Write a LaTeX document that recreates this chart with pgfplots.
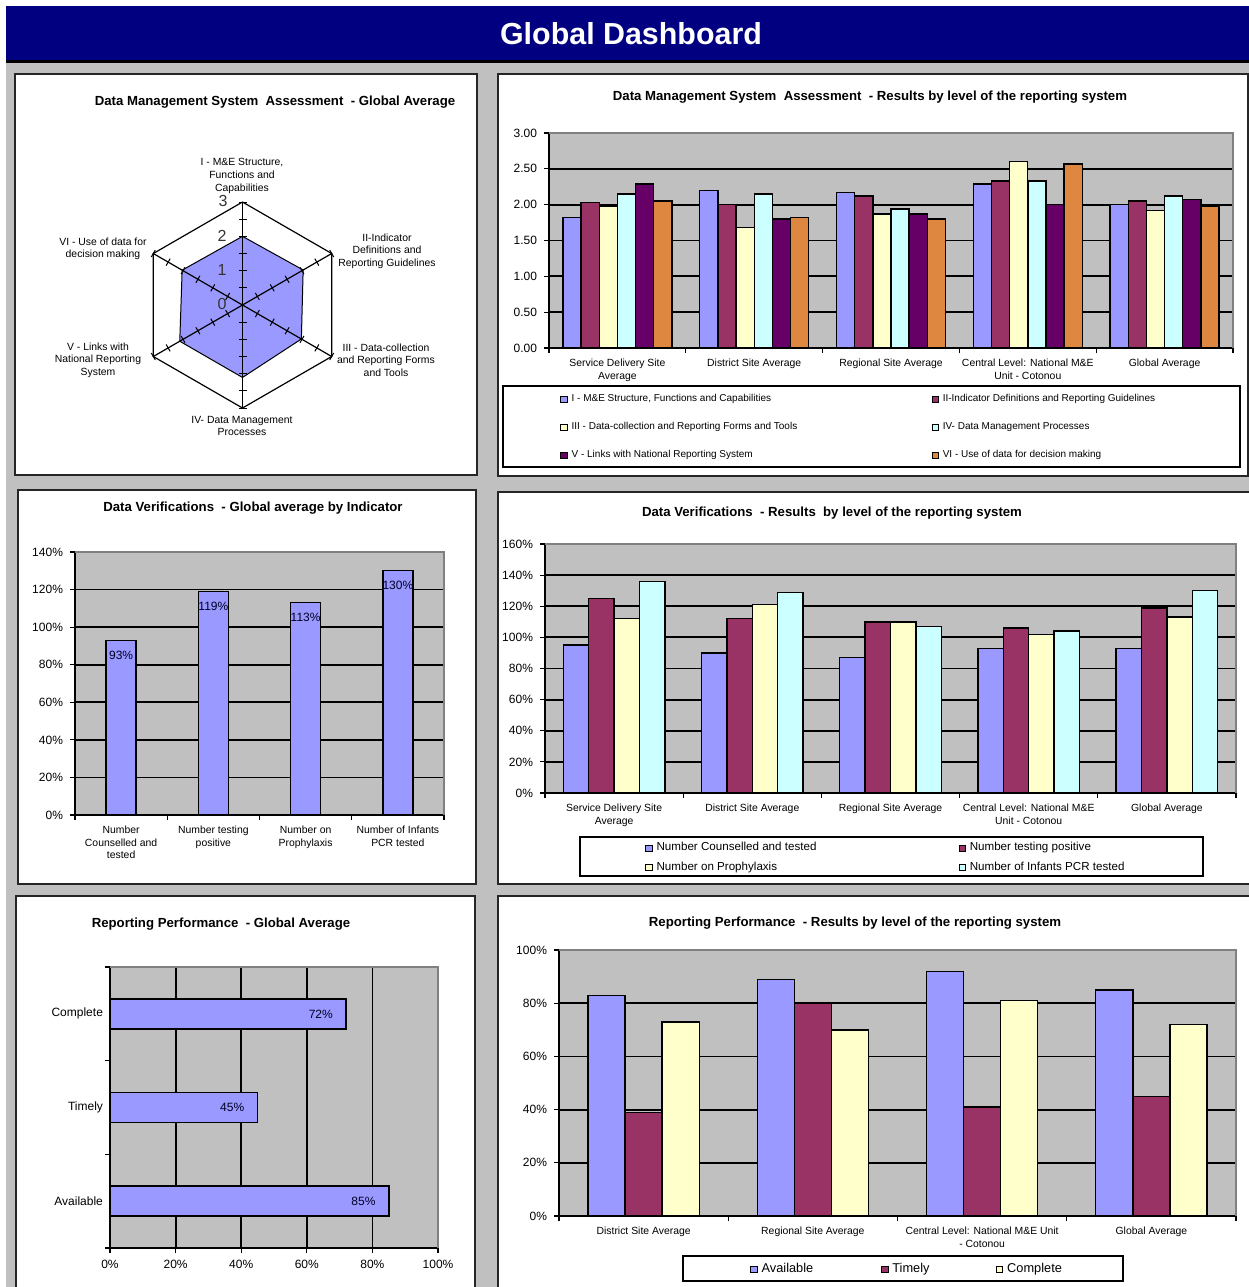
\documentclass[border=0pt]{standalone}
\usepackage{fontspec}
\setmainfont{Liberation Sans}
\usepackage{pgfplots}
\pgfplotsset{compat=1.18}
\usepgfplotslibrary{polar}

\definecolor{periwinkle}{RGB}{153,153,255}
\definecolor{plum}{RGB}{153,51,102}
\definecolor{ivory}{RGB}{255,255,204}
\definecolor{lightturq}{RGB}{204,255,255}
\definecolor{darkpurple}{RGB}{102,0,102}
\definecolor{orangebar}{RGB}{222,135,64}
\definecolor{plotgrey}{RGB}{192,192,192}
\definecolor{headnavy}{RGB}{0,0,128}

\newcommand{\titlefont}{\bfseries\fontsize{6.6}{7.8}\selectfont}
\newcommand{\catfont}{\fontsize{5.2}{6.2}\selectfont}
\newcommand{\tickfont}{\fontsize{6}{7}\selectfont}

\pgfplotsset{
  dashbar/.style={
    scale only axis,
    anchor=south west,
    axis background/.style={fill=plotgrey},
    axis x line*=bottom, axis y line*=left,
    axis line style={black, line width=0.7pt, -},
    ymajorgrids,
    major grid style={black, line width=0.9pt},
    tick align=outside,
    major tick length=2.5pt,
    tick style={black, line width=0.6pt},
    ymin=0,
    enlargelimits=false,
    clip=false,
    every axis plot/.append style={draw=black, line width=0.7pt},
    ticklabel style={font=\tickfont},
    xticklabel style={font=\catfont, align=center, yshift=-2pt},
    /pgf/number format/assume math mode=true,
    legend cell align=left,
  },
  % small filled square as legend key
  sqlegend/.style={
    legend image code/.code={\draw[##1,draw=black,line width=0.4pt] (0pt,-1.6pt) rectangle (3.2pt,1.6pt);},
  },
}

\begin{document}
\begin{tikzpicture}
\path[use as bounding box] (0,0) rectangle (624.5pt,-643.5pt);
\begin{scope}[x=0.5pt,y=-0.5pt]
  % page background and header band
  \fill[white] (0,0) rectangle (1249,1287);
  \fill[plotgrey] (6,62) rectangle (1249,1287);
  \fill[headnavy] (6,6) rectangle (1249,60);
  \fill[black] (6,60) rectangle (1249,62.5);
  \node[white, inner sep=0pt, font=\bfseries\fontsize{15.2}{18}\selectfont] at (631,34) {Global Dashboard};
  % chart panels
  \foreach \a/\b/\c/\d in {15/74/477/475, 498/74/1248/476, 18/490/476/884,
                            498/492/1252/884, 16/896/475/1292, 498/896/1252/1292}
    \draw[fill=white, line width=1pt, draw=black!85] (\a,\b) rectangle (\c,\d);
  % chart titles
  \begin{scope}[every node/.style={inner sep=0pt, font=\titlefont}]
    \node at (275,102) {Data Management System~ Assessment~ - Global Average};
    \node at (870,97) {Data Management System~ Assessment~ - Results by level of the reporting system};
    \node at (253,508) {Data Verifications~ - Global average by Indicator};
    \node at (832,513) {Data Verifications~ - Results~ by level of the reporting system};
    \node at (221,924) {Reporting Performance~ - Global Average};
    \node at (855,923) {Reporting Performance~ - Results by level of the reporting system};
  \end{scope}
  % radar category names
  \begin{scope}[every node/.style={inner sep=0pt, align=center, font=\fontsize{5.2}{6.3}\selectfont}]
    \node at (242,176) {I - M\&E Structure,\\Functions and\\Capabilities};
    \node at (387,251) {II-Indicator\\Definitions and\\Reporting Guidelines};
    \node at (386,360) {III - Data-collection\\and Reporting Forms\\and Tools};
    \node at (242,426) {IV- Data Management\\Processes};
    \node at (98,360) {V - Links with\\National Reporting\\System};
    \node at (103,249) {VI - Use of data for\\decision making};
  \end{scope}
  % legend frames
  \draw[line width=0.8pt] (503,386) rectangle (1240,467);
  \draw[line width=0.8pt] (580,837) rectangle (1203,876);
  \draw[line width=0.8pt] (683,1256) rectangle (1123,1281);
\end{scope}

% ---------- Radar: global average per component ----------
\begin{polaraxis}[
  at={(121.25pt,-152.5pt)}, anchor=center,
  scale only axis, width=103pt, height=103pt,
  ymin=0, ymax=3, hide axis, clip=false,
]
\addplot[fill=periwinkle, draw=black, line width=0.5pt]
  coordinates {(90,2.00) (30,2.04) (-30,1.98) (-90,2.11) (-150,2.11) (150,2.03) (90,2.00)};
\addplot[black, line width=0.6pt]
  coordinates {(90,3) (30,3) (-30,3) (-90,3) (-150,3) (150,3) (90,3)};
\addplot[black, line width=0.6pt] coordinates {(90,3) (270,3)};
\addplot[black, line width=0.6pt] coordinates {(30,3) (210,3)};
\addplot[black, line width=0.6pt] coordinates {(-30,3) (150,3)};
\addplot[only marks, mark=-, mark size=2pt, mark options={black, line width=0.5pt}]
  coordinates {(90,0.5) (90,1) (90,1.5) (90,2) (90,2.5) (90,3)
               (270,0.5) (270,1) (270,1.5) (270,2) (270,2.5) (270,3)};
\addplot[only marks, mark=-, mark size=2pt, mark options={black, line width=0.5pt, rotate=120}]
  coordinates {(30,0.5) (30,1) (30,1.5) (30,2) (30,2.5) (30,3)
               (210,0.5) (210,1) (210,1.5) (210,2) (210,2.5) (210,3)};
\addplot[only marks, mark=-, mark size=2pt, mark options={black, line width=0.5pt, rotate=60}]
  coordinates {(-30,0.5) (-30,1) (-30,1.5) (-30,2) (-30,2.5) (-30,3)
               (150,0.5) (150,1) (150,1.5) (150,2) (150,2.5) (150,3)};
\end{polaraxis}

% radar scale numbers, drawn over the filled area
\begin{scope}[x=0.5pt,y=-0.5pt, every node/.style={inner sep=0pt, font=\fontsize{8}{9}\selectfont, text=black!80}]
  \node at (223,201) {3};
  \node at (222,236) {2};
  \node at (222,270) {1};
  \node at (222,304) {0};
\end{scope}

% ---------- DMS assessment by level ----------
\begin{axis}[dashbar,
  at={(274.5pt,-174pt)}, width=342pt, height=107.5pt,
  xmin=-0.5, xmax=4.5, ymax=3,
  ytick={0,0.5,1,1.5,2,2.5,3},
  yticklabel style={/pgf/number format/.cd, fixed, fixed zerofill, precision=2},
  xtick={-0.5,0.5,1.5,2.5,3.5,4.5}, xticklabels={},
  extra x ticks={0,1,2,3,4},
  extra x tick labels={{Service Delivery Site\\Average},{District Site Average},{Regional Site Average},{Central Level: National M\&E\\Unit - Cotonou},{Global Average}},
  extra x tick style={major tick length=0pt},
  ybar=0pt, bar width=0.133,
  sqlegend,
  legend columns=2,
  legend style={draw=none, fill=none, inner sep=0pt, at={(0.0161,-0.1953)}, anchor=north west,
    font=\fontsize{5}{6}\selectfont, row sep=4.8pt},
]
\addplot[fill=periwinkle] coordinates {(0,1.82) (1,2.20) (2,2.17) (3,2.29) (4,2.00)};
\addplot[fill=plum] coordinates {(0,2.03) (1,2.00) (2,2.12) (3,2.33) (4,2.05)};
\addplot[fill=ivory] coordinates {(0,1.98) (1,1.68) (2,1.87) (3,2.60) (4,1.92)};
\addplot[fill=lightturq] coordinates {(0,2.15) (1,2.15) (2,1.94) (3,2.33) (4,2.12)};
\addplot[fill=darkpurple] coordinates {(0,2.29) (1,1.80) (2,1.87) (3,2.00) (4,2.07)};
\addplot[fill=orangebar] coordinates {(0,2.05) (1,1.82) (2,1.80) (3,2.57) (4,1.98)};
\addlegendentry{\makebox[178pt][l]{I - M\&E Structure, Functions and Capabilities}}
\addlegendentry{II-Indicator Definitions and Reporting Guidelines}
\addlegendentry{\makebox[178pt][l]{III - Data-collection and Reporting Forms and Tools}}
\addlegendentry{IV- Data Management Processes}
\addlegendentry{\makebox[178pt][l]{V - Links with National Reporting System}}
\addlegendentry{VI - Use of data for decision making}
\draw[gray, line width=0.6pt] (rel axis cs:0,1) -- (rel axis cs:1,1) -- (rel axis cs:1,0);
\end{axis}

% ---------- Data verifications: global average ----------
\begin{axis}[dashbar,
  at={(37.5pt,-407.5pt)}, width=184.5pt, height=131.5pt,
  xmin=-0.5, xmax=3.5, ymax=140,
  ytick={0,20,...,140}, yticklabel={\pgfmathprintnumber{\tick}\%},
  xtick={-0.5,0.5,1.5,2.5,3.5}, xticklabels={},
  extra x ticks={0,1,2,3},
  extra x tick labels={{Number\\Counselled and\\tested},{Number testing\\positive},{Number on\\Prophylaxis},{Number of Infants\\PCR tested}},
  extra x tick style={major tick length=0pt},
  ybar, bar width=0.326,
  nodes near coords={\pgfmathprintnumber{\pgfplotspointmeta}\%},
  every node near coord/.append style={font=\tickfont, anchor=center, yshift=-7.5pt, text=black!85!blue},
]
\addplot[fill=periwinkle] coordinates {(0,93) (1,119) (2,113) (3,130)};
\draw[gray, line width=0.6pt] (rel axis cs:0,1) -- (rel axis cs:1,1) -- (rel axis cs:1,0);
\end{axis}

% ---------- Data verifications by level ----------
\begin{axis}[dashbar,
  at={(272.5pt,-396.5pt)}, width=345.5pt, height=124.5pt,
  xmin=-0.5, xmax=4.5, ymax=160,
  ytick={0,20,...,160}, yticklabel={\pgfmathprintnumber{\tick}\%},
  xtick={-0.5,0.5,1.5,2.5,3.5,4.5}, xticklabels={},
  extra x ticks={0,1,2,3,4},
  extra x tick labels={{Service Delivery Site\\Average},{District Site Average},{Regional Site Average},{Central Level: National M\&E\\Unit - Cotonou},{Global Average}},
  extra x tick style={major tick length=0pt},
  ybar=0pt, bar width=0.184,
  sqlegend,
  legend columns=2,
  legend style={draw=none, fill=none, inner sep=0pt, at={(0.1447,-0.1807)}, anchor=north west,
    font=\fontsize{5.8}{7}\selectfont, row sep=0pt},
]
\addplot[fill=periwinkle] coordinates {(0,95) (1,90) (2,87) (3,93) (4,93)};
\addplot[fill=plum] coordinates {(0,125) (1,112) (2,110) (3,106) (4,119)};
\addplot[fill=ivory] coordinates {(0,112) (1,121) (2,110) (3,102) (4,113)};
\addplot[fill=lightturq] coordinates {(0,136) (1,129) (2,107) (3,104) (4,130)};
\addlegendentry{\makebox[149pt][l]{Number Counselled and tested}}
\addlegendentry{Number testing positive}
\addlegendentry{\makebox[149pt][l]{Number on Prophylaxis}}
\addlegendentry{Number of Infants PCR tested}
\draw[gray, line width=0.6pt] (rel axis cs:0,1) -- (rel axis cs:1,1) -- (rel axis cs:1,0);
\end{axis}

% ---------- Reporting performance: global average ----------
\begin{axis}[dashbar,
  at={(55pt,-624pt)}, width=164pt, height=140.5pt,
  xmin=0, xmax=100, ymin=-0.5, ymax=2.5,
  ymajorgrids=false, xmajorgrids,
  xtick={0,20,...,100}, xticklabel={\pgfmathprintnumber{\tick}\%},
  xticklabel style={font=\tickfont, yshift=2pt},
  ytick={-0.5,0.5,1.5,2.5}, yticklabels={},
  extra y ticks={0,1,2},
  extra y tick labels={Available,Timely,Complete},
  extra y tick style={major tick length=0pt},
  xbar, bar width=0.32,
  nodes near coords={\pgfmathprintnumber{\pgfplotspointmeta}\%},
  every node near coord/.append style={font=\tickfont, anchor=east, xshift=-3pt, text=black!85!blue},
]
\addplot[fill=periwinkle] coordinates {(85,0) (45,1) (72,2)};
\draw[gray, line width=0.6pt] (rel axis cs:0,1) -- (rel axis cs:1,1) -- (rel axis cs:1,0);
\end{axis}

% ---------- Reporting performance by level ----------
\begin{axis}[dashbar,
  at={(279.5pt,-608pt)}, width=338.5pt, height=133pt,
  xmin=-0.5, xmax=3.5, ymax=100,
  ytick={0,20,...,100}, yticklabel={\pgfmathprintnumber{\tick}\%},
  xtick={-0.5,0.5,1.5,2.5,3.5}, xticklabels={},
  extra x ticks={0,1,2,3},
  extra x tick labels={{District Site Average},{Regional Site Average},{Central Level: National M\&E Unit\\- Cotonou},{Global Average}},
  extra x tick style={major tick length=0pt},
  ybar=0pt, bar width=0.219,
  sqlegend,
  legend columns=3,
  legend style={draw=none, fill=none, inner sep=0pt, at={(0.2821,-0.1617)}, anchor=north west,
    font=\fontsize{6.4}{7.5}\selectfont},
]
\addplot[fill=periwinkle] coordinates {(0,83) (1,89) (2,92) (3,85)};
\addplot[fill=plum] coordinates {(0,39) (1,80) (2,41) (3,45)};
\addplot[fill=ivory] coordinates {(0,73) (1,70) (2,81) (3,72)};
\addlegendentry{\makebox[57.8pt][l]{Available}}
\addlegendentry{\makebox[49.8pt][l]{Timely}}
\addlegendentry{Complete}
\draw[gray, line width=0.6pt] (rel axis cs:0,1) -- (rel axis cs:1,1) -- (rel axis cs:1,0);
\end{axis}
\end{tikzpicture}
\end{document}
